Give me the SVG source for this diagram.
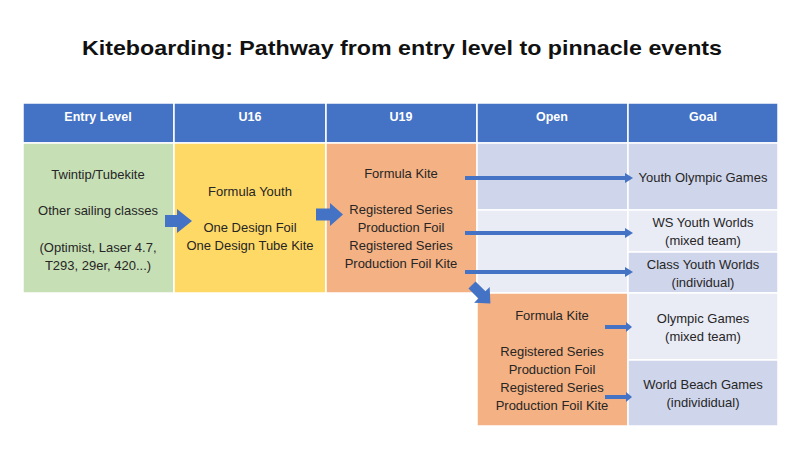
<svg xmlns="http://www.w3.org/2000/svg" width="800" height="449" viewBox="0 0 800 449">
<defs>
<style>
.t{font-family:"Liberation Sans",Arial,sans-serif;font-size:13px;fill:#262626;text-anchor:middle}
.h{font-family:"Liberation Sans",Arial,sans-serif;font-size:12.5px;font-weight:bold;fill:#ffffff;text-anchor:middle}
.c{stroke:#ffffff;stroke-width:1.5}
.hd{fill:#4472c4}
.gr{fill:#c6dfb5}
.ye{fill:#ffd966}
.or{fill:#f4b183}
.bd{fill:#cfd5ea}
.bl{fill:#e9ebf5}
.ln{stroke:#4472c4;stroke-width:4;fill:none}
.blk{fill:#4472c4}
</style>
<marker id="ah" markerUnits="userSpaceOnUse" markerWidth="8" markerHeight="10" refX="0" refY="5" orient="auto">
<path d="M0,0 L8,5 L0,10 Z" fill="#4472c4"/>
</marker>
<marker id="ahs" markerUnits="userSpaceOnUse" markerWidth="6" markerHeight="10" refX="0" refY="5" orient="auto">
<path d="M0,0 L6,5 L0,10 Z" fill="#4472c4"/>
</marker>
</defs>
<rect width="800" height="449" fill="#ffffff"/>
<text x="82" y="55" font-family="'Liberation Sans',Arial,sans-serif" font-size="21" font-weight="bold" fill="#111111" textLength="640" lengthAdjust="spacingAndGlyphs">Kiteboarding: Pathway from entry level to pinnacle events</text>

<g id="header">
<rect class="hd c" x="23" y="103" width="151" height="40"/>
<rect class="hd c" x="174" y="103" width="152" height="40"/>
<rect class="hd c" x="326" y="103" width="151" height="40"/>
<rect class="hd c" x="477" y="103" width="151" height="40"/>
<rect class="hd c" x="628" y="103" width="150" height="40"/>
<text class="h" x="98" y="121">Entry Level</text>
<text class="h" x="250" y="121">U16</text>
<text class="h" x="401" y="121">U19</text>
<text class="h" x="552" y="121">Open</text>
<text class="h" x="703" y="121">Goal</text>
</g>

<g id="entry">
<rect class="gr c" x="23" y="143" width="151" height="150"/>
<text class="t" x="98" y="179">Twintip/Tubekite</text>
<text class="t" x="98" y="215">Other sailing classes</text>
<text class="t" x="98" y="252">(Optimist, Laser 4.7,</text>
<text class="t" x="98" y="270">T293, 29er, 420...)</text>
</g>

<g id="u16">
<rect class="ye c" x="174" y="143" width="152" height="150"/>
<text class="t" x="250" y="196">Formula Youth</text>
<text class="t" x="250" y="232">One Design Foil</text>
<text class="t" x="250" y="250">One Design Tube Kite</text>
</g>

<g id="u19">
<rect class="or c" x="326" y="143" width="151" height="150"/>
<text class="t" x="401" y="178">Formula Kite</text>
<text class="t" x="401" y="214">Registered Series</text>
<text class="t" x="401" y="232">Production Foil</text>
<text class="t" x="401" y="250">Registered Series</text>
<text class="t" x="401" y="268">Production Foil Kite</text>
</g>

<g id="open-youth">
<rect class="bd c" x="477" y="143" width="151" height="67"/>
<rect class="bl c" x="477" y="210" width="151" height="83"/>
</g>

<g id="goal-yog">
<rect class="bd c" x="628" y="143" width="150" height="67"/>
<text class="t" x="703" y="182">Youth Olympic Games</text>
</g>
<g id="goal-wsyw">
<rect class="bl c" x="628" y="210" width="150" height="42"/>
<text class="t" x="703" y="227">WS Youth Worlds</text>
<text class="t" x="703" y="245">(mixed team)</text>
</g>
<g id="goal-cyw">
<rect class="bd c" x="628" y="252" width="150" height="41"/>
<text class="t" x="703" y="269">Class Youth Worlds</text>
<text class="t" x="703" y="287">(individual)</text>
</g>

<g id="open">
<rect class="or c" x="477" y="293" width="151" height="133"/>
<text class="t" x="552" y="320">Formula Kite</text>
<text class="t" x="552" y="356">Registered Series</text>
<text class="t" x="552" y="374">Production Foil</text>
<text class="t" x="552" y="392">Registered Series</text>
<text class="t" x="552" y="410">Production Foil Kite</text>
</g>

<g id="goal-og">
<rect class="bl c" x="628" y="293" width="150" height="67"/>
<text class="t" x="703" y="323">Olympic Games</text>
<text class="t" x="703" y="341">(mixed team)</text>
</g>
<g id="goal-wbg">
<rect class="bd c" x="628" y="360" width="150" height="66"/>
<text class="t" x="703" y="389">World Beach Games</text>
<text class="t" x="703" y="407">(individidual)</text>
</g>

<g id="connectors">
<path class="blk" d="M165,215 H177 V209 L192,221 L177,233 V227 H165 Z"/>
<path class="blk" d="M316,208.5 H330 V203 L343,214.5 L330,226 V220.5 H316 Z"/>
<path class="blk" transform="translate(472,285) rotate(45)" d="M0,-5 H14 V-11 L26,0 L14,11 V5 H0 Z"/>
<line class="ln" x1="465" y1="178" x2="625" y2="178" marker-end="url(#ah)"/>
<line class="ln" x1="465" y1="233" x2="625" y2="233" marker-end="url(#ah)"/>
<line class="ln" x1="465" y1="272" x2="625" y2="272" marker-end="url(#ah)"/>
<line class="ln" x1="605" y1="327" x2="626" y2="327" marker-end="url(#ahs)"/>
<line class="ln" x1="605" y1="397" x2="626" y2="397" marker-end="url(#ahs)"/>
</g>
</svg>
